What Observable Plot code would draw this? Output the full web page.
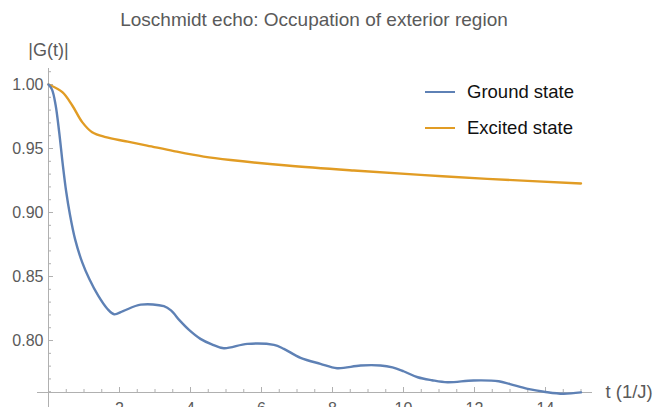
<!DOCTYPE html>
<html>
<head>
<meta charset="utf-8">
<script src="https://cdn.jsdelivr.net/npm/d3@7"></script>
<script src="https://cdn.jsdelivr.net/npm/@observablehq/plot@0.6"></script>
<style>
  html, body { margin: 0; padding: 0; background: #fff; }
  body { width: 668px; height: 407px; position: relative; overflow: hidden; font-family: "Liberation Sans", Arial, sans-serif; }
  #title { height: 38px; line-height: 40px; text-align: center; padding-right: 40px; font-size: 19px; color: #5a5a5a; }
  #legend { position: absolute; left: 425px; top: 74px; font-size: 18.5px; color: #111; }
  .item { display: flex; align-items: center; height: 36px; }
  .sw { width: 30px; height: 2.5px; margin-right: 12px; }
</style>
</head>
<body>
<div id="title">Loschmidt echo: Occupation of exterior region</div>
<div id="chart"></div>
<div id="legend"></div>
<script>
// ---- data ----
const groundT = [0, 0.1, 0.2, 0.3, 0.4, 0.5, 0.6, 0.75, 0.95, 1.15, 1.4, 1.65, 1.85, 2.1, 2.6, 3.25, 3.45, 3.7, 3.95, 4.28, 4.6, 4.94, 5.6, 6.35, 6.63, 7.1, 7.66, 8.13, 8.79, 9.35, 9.69, 10.0, 10.4, 10.8, 11.24, 11.97, 12.68, 13.0, 13.5, 14.0, 14.5, 15.0];
const groundG = [1.0, 0.996, 0.984, 0.963, 0.938, 0.916, 0.899, 0.879, 0.861, 0.848, 0.835, 0.825, 0.8205, 0.823, 0.828, 0.8268, 0.8235, 0.8155, 0.8085, 0.8013, 0.797, 0.794, 0.7974, 0.7966, 0.7935, 0.7865, 0.7818, 0.7784, 0.7805, 0.7805, 0.779, 0.776, 0.7713, 0.769, 0.7674, 0.7688, 0.7682, 0.766, 0.7622, 0.7598, 0.7584, 0.7595];
const excitedT = [0, 0.39, 0.67, 0.95, 1.23, 1.61, 2.17, 2.78, 3.53, 4.37, 5.13, 6.72, 8.6, 10.48, 12.36, 15.0];
const excitedG = [1.0, 0.994, 0.9836, 0.9706, 0.9627, 0.9589, 0.9557, 0.9523, 0.948, 0.9437, 0.941, 0.9367, 0.9328, 0.9294, 0.9263, 0.9227];
const seriesNames = ["Ground state", "Excited state"];
const seriesColors = ["#5E81B5", "#E19C24"];
const xMajorTicks = [2, 4, 6, 8, 10, 12, 14];
const xMinorTicks = [0.5, 1, 1.5, 2.5, 3, 3.5, 4.5, 5, 5.5, 6.5, 7, 7.5, 8.5, 9, 9.5, 10.5, 11, 11.5, 12.5, 13, 13.5, 14.5, 15];
const yMajorTicks = [0.80, 0.85, 0.90, 0.95, 1.00];
const yMinorTicks = [0.76, 0.77, 0.78, 0.79, 0.81, 0.82, 0.83, 0.84, 0.86, 0.87, 0.88, 0.89, 0.91, 0.92, 0.93, 0.94, 0.96, 0.97, 0.98, 0.99, 1.01];

// ---- layout ----
const W = 668, H = 369, mL = 48, mR = 87.5, mT = 30, mB = 15;
const xMin = 0, xMax = 15, yMin = 0.7594, yMax = 1.0125;
const pxX = (W - mL - mR) / (xMax - xMin);
const pxY = (H - mT - mB) / (yMax - yMin);
const axisColor = "#b0b0b0";
const labelColor = "#5a5a5a";

const ground = groundT.map((t, i) => ({t, g: groundG[i]}));
const excited = excitedT.map((t, i) => ({t, g: excitedG[i]}));

const chart = Plot.plot({
  width: W, height: H,
  marginLeft: mL, marginRight: mR, marginTop: mT, marginBottom: mB,
  style: {fontFamily: '"Liberation Sans", Arial, sans-serif', overflow: "visible"},
  x: {domain: [xMin, xMax], axis: null},
  y: {domain: [yMin, yMax], axis: null},
  marks: [
    // axes lines
    Plot.ruleY([yMin], {x1: xMin - 11 / pxX, x2: xMax + 11.5 / pxX, stroke: axisColor}),
    Plot.ruleX([xMin], {y1: yMin - 15 / pxY, y2: yMax, stroke: axisColor}),
    // x ticks (pointing up)
    Plot.ruleX(xMajorTicks, {x: d => d, y1: yMin, y2: yMin + 5 / pxY, stroke: axisColor}),
    Plot.ruleX(xMinorTicks, {x: d => d, y1: yMin, y2: yMin + 3 / pxY, stroke: axisColor}),
    // y ticks (pointing right)
    Plot.ruleY(yMajorTicks, {y: d => d, x1: xMin, x2: xMin + 5 / pxX, stroke: axisColor}),
    Plot.ruleY(yMinorTicks, {y: d => d, x1: xMin, x2: xMin + 3 / pxX, stroke: axisColor}),
    // tick labels
    Plot.text(yMajorTicks, {x: xMin, y: d => d, text: d => d.toFixed(2), textAnchor: "end", dx: -5, fontSize: 16, fill: labelColor}),
    Plot.text(xMajorTicks, {x: d => d, y: yMin, text: d => String(d), lineAnchor: "top", dy: 10, fontSize: 16, fill: labelColor}),
    // axis labels
    Plot.text(["|G(t)|"], {x: xMin, y: yMax, text: d => d, dy: -18, fontSize: 18, fill: labelColor}),
    Plot.text(["t (1/J)"], {x: xMax, y: yMin, text: d => d, textAnchor: "start", dx: 24.5, fontSize: 18.5, fill: labelColor}),
    // curves
    Plot.line(excited, {x: "t", y: "g", stroke: seriesColors[1], strokeWidth: 2.4, curve: "catmull-rom"}),
    Plot.line(ground, {x: "t", y: "g", stroke: seriesColors[0], strokeWidth: 2.4, curve: "catmull-rom"})
  ]
});
document.getElementById("chart").appendChild(chart);

const legend = document.getElementById("legend");
seriesNames.forEach((name, i) => {
  const item = document.createElement("div");
  item.className = "item";
  const sw = document.createElement("div");
  sw.className = "sw";
  sw.style.background = seriesColors[i];
  const lab = document.createElement("span");
  lab.textContent = name;
  item.appendChild(sw);
  item.appendChild(lab);
  legend.appendChild(item);
});
</script>
</body>
</html>
